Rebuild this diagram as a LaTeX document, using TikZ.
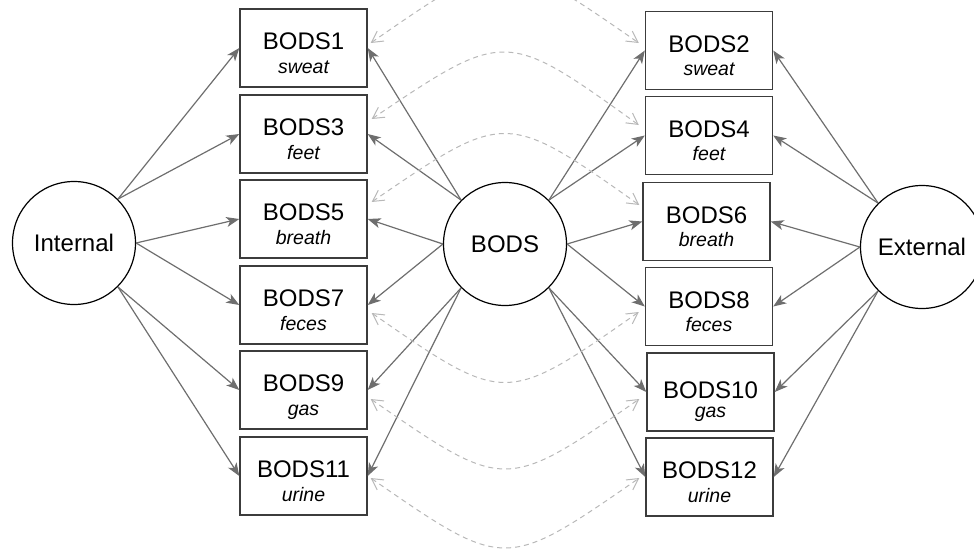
\documentclass[tikz,border=0pt]{standalone}
\usepackage{fontspec}
\setmainfont{Liberation Sans}
\usetikzlibrary{arrows.meta,calc}
\definecolor{arrgray}{HTML}{6E6E6E}
\definecolor{dashgray}{HTML}{B8B8B8}
\definecolor{boxgray}{HTML}{3C3C3C}
\tikzset{
  obsbox/.style={draw=boxgray, line width=1.4pt, minimum width=127pt, minimum height=78pt, inner sep=0pt},
  latent/.style={circle, draw=black, line width=1.2pt, minimum size=123pt, inner sep=0pt, font=\fontsize{24}{28}\selectfont},
  ttl/.style={anchor=base, inner sep=0pt, font=\fontsize{24}{28}\selectfont},
  subt/.style={anchor=base, inner sep=0pt, font=\fontsize{19.5}{22}\selectfont\itshape},
  load/.style={draw=arrgray, line width=1.2pt, -{Stealth[length=13pt,width=10pt,inset=3.5pt]}},
  cov/.style={draw=dashgray, line width=1pt, dash pattern=on 5pt off 4pt,
    {Straight Barb[length=11pt,width=12pt]}-{Straight Barb[length=11pt,width=12pt]}},
}
\begin{document}
\begin{tikzpicture}[x=1pt,y=-1pt]
\path[use as bounding box] (0,0) rectangle (974,549);
\clip (0,0) rectangle (974,549);

% latent variables
\node[latent] (int) at (74,243) {Internal};
\node[latent] (bods) at (505,244) {BODS};
\node[latent] (ext) at (922,247) {External};

% left indicators
\foreach \n/\y/\s in {1/48/sweat,3/134/feet,5/219/breath,7/305/feces,9/390/gas,11/476/urine}{
  \node[obsbox] (b\n) at (303.5,\y) {};
  \node[ttl] (t\n) at ([yshift=-1.5pt]b\n.center) {BODS\n};
  \node[subt] (s\n) at ([yshift=-25pt]b\n.center) {\s};
}
% right indicators
\foreach \n/\x/\y/\s/\d in {2/709/50.5/sweat/1.5,4/709/135.5/feet/1.5,6/706.5/221.5/breath/1.5,8/709/306.5/feces/1.5,10/710.5/392/gas/6,12/709.5/477/urine/1.5}{
  \node[obsbox] (b\n) at (\x,\y) {};
  \node[ttl] (t\n) at ([yshift=-\d pt]b\n.center) {BODS\n};
  \node[subt] (s\n) at ([yshift=-25pt]b\n.center) {\s};
}

% loadings
\foreach \n/\a in {1/45,3/45,5/0,7/0,9/-45,11/-45}{
  \draw[load] (int.\a) -- (b\n.west);
}
\foreach \n/\a in {1/135,3/135,5/180,7/180,9/225,11/225}{
  \draw[load] (bods.\a) -- (b\n.east);
}
\foreach \n/\a in {2/45,4/45,6/0,8/0,10/-45,12/-45}{
  \draw[load] (bods.\a) -- (b\n.west);
}
\foreach \n/\a in {2/135,4/135,6/180,8/180,10/225,12/225}{
  \draw[load] (ext.\a) -- (b\n.east);
}

% residual covariances
\coordinate (l1) at ([xshift=3pt,yshift=5pt]b1.east);
\coordinate (r2) at ([xshift=-6pt,yshift=7.5pt]b2.west);
\coordinate (l3) at ([xshift=4pt,yshift=15pt]b3.east);
\coordinate (r4) at ([xshift=-6pt,yshift=10.5pt]b4.west);
\coordinate (l5) at ([xshift=4pt,yshift=17pt]b5.east);
\coordinate (r6) at ([xshift=-3pt,yshift=16.5pt]b6.west);
\coordinate (l7) at ([xshift=4pt,yshift=-8pt]b7.east);
\coordinate (r8) at ([xshift=-6pt,yshift=-5.5pt]b8.west);
\coordinate (l9) at ([xshift=3pt,yshift=-9pt]b9.east);
\coordinate (r10) at ([xshift=-7pt,yshift=-7pt]b10.west);
\coordinate (l11) at ([xshift=3pt,yshift=-2pt]b11.east);
\coordinate (r12) at ([xshift=-6pt,yshift=-1pt]b12.west);

\draw[cov] (l1) .. controls ($(l1)!0.5!(r2)+(0,-93)$) .. (r2);
\draw[cov] (l3) .. controls ($(l3)!0.5!(r4)+(0,-93)$) .. (r4);
\draw[cov] (l5) .. controls ($(l5)!0.5!(r6)+(0,-93)$) .. (r6);
\draw[cov] (l7) .. controls ($(l7)!0.5!(r8)+(0,93)$) .. (r8);
\draw[cov] (l9) .. controls ($(l9)!0.5!(r10)+(0,93)$) .. (r10);
\draw[cov] (l11) .. controls ($(l11)!0.5!(r12)+(0,93)$) .. (r12);
\end{tikzpicture}
\end{document}
